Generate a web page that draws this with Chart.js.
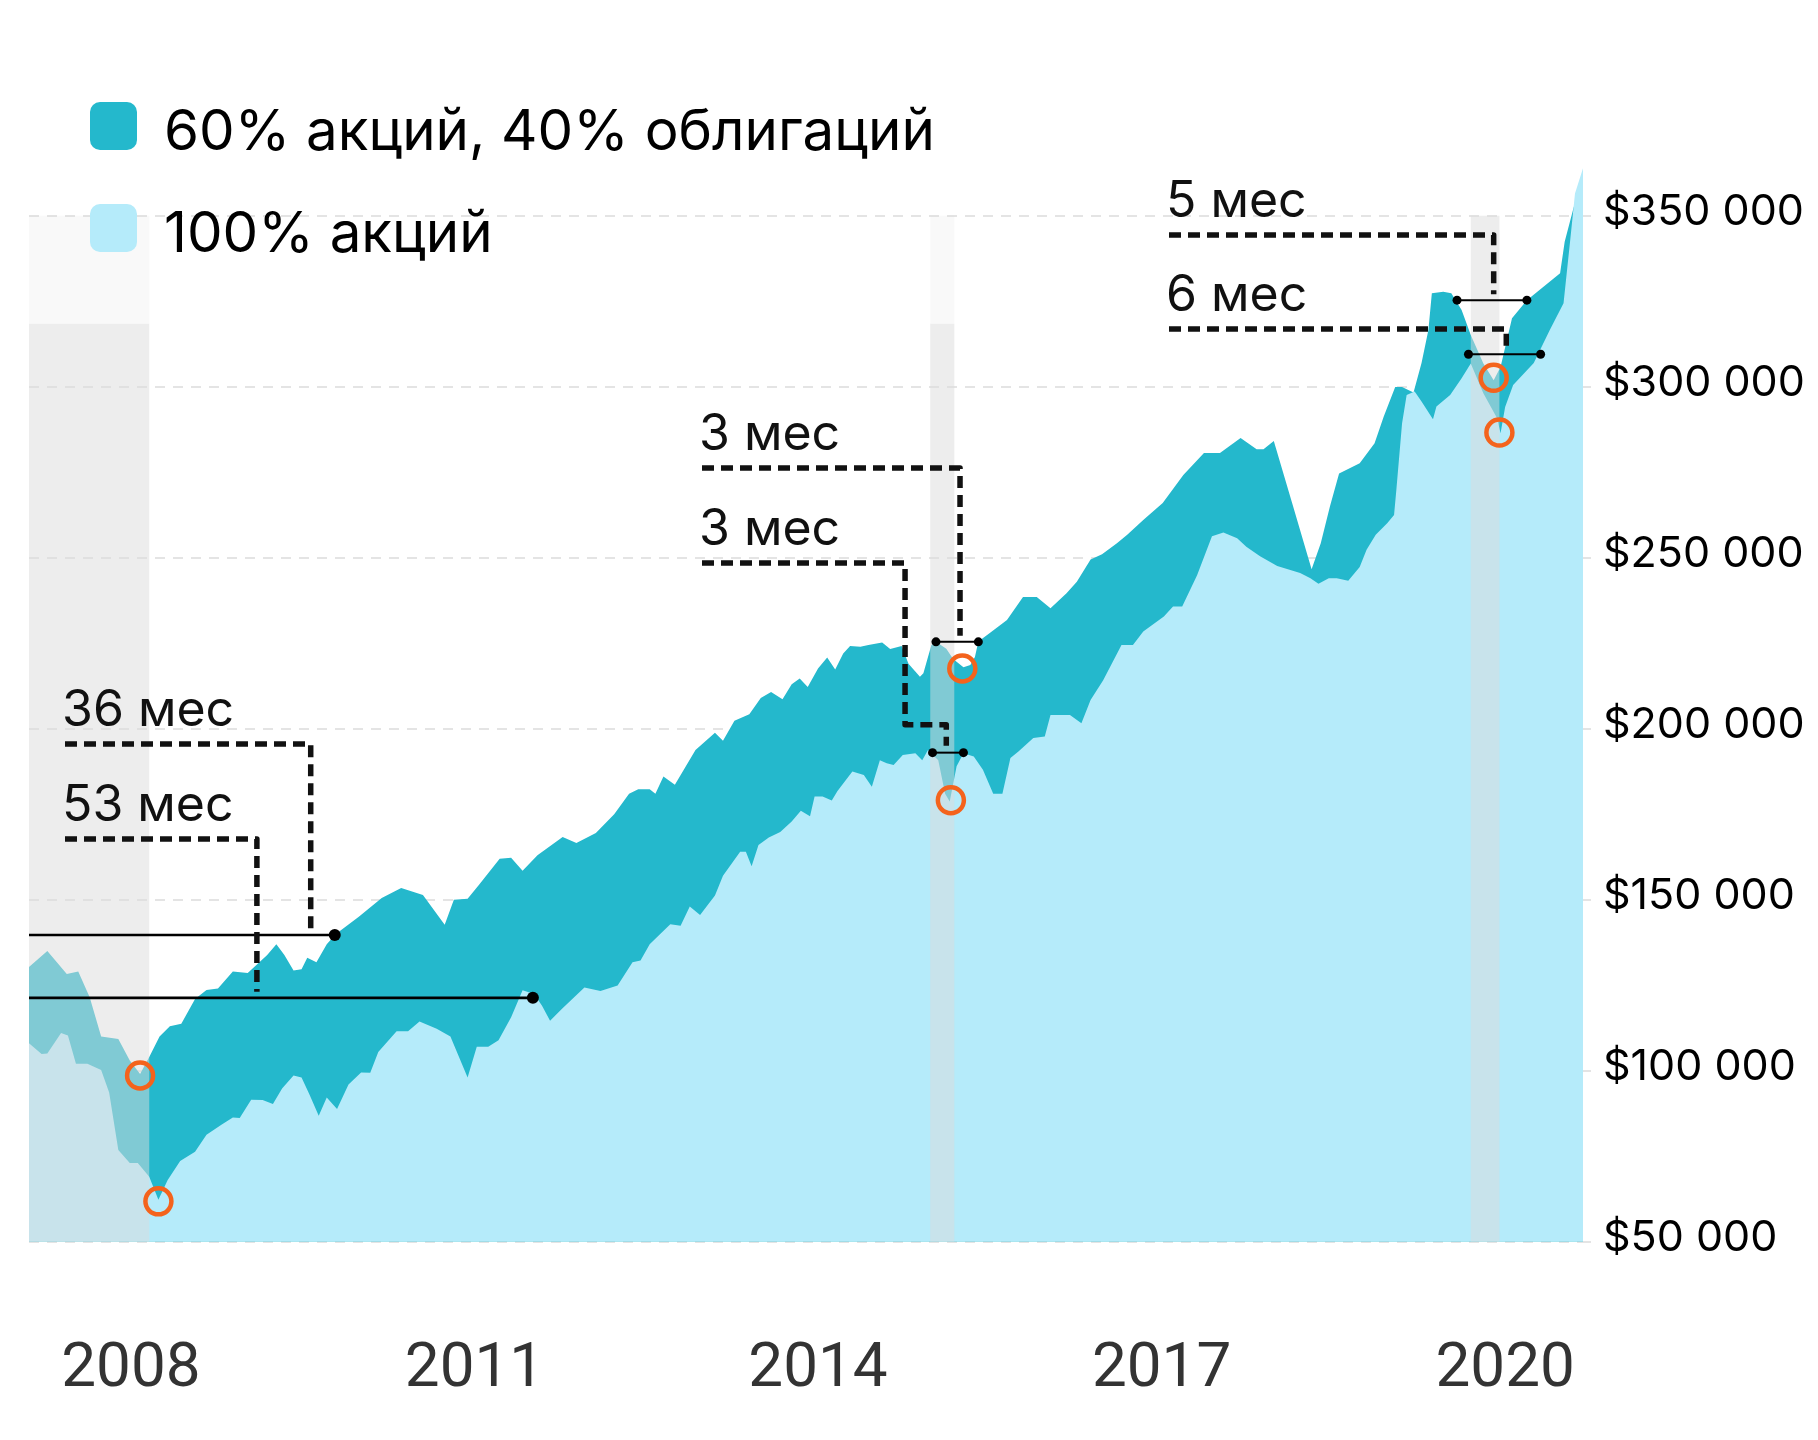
<!DOCTYPE html>
<html><head><meta charset="utf-8">
<script src="https://cdn.jsdelivr.net/npm/chart.js@4.4.1/dist/chart.umd.min.js"></script>
<style>html,body{margin:0;padding:0;background:#fff;}#wrap{width:1818px;height:1440px;}</style>
</head><body><div id="wrap"><canvas id="c" width="1818" height="1440"></canvas></div>
<script>
// ---------- DATA ----------
const seriesNames = ['60% акций, 40% облигаций', '100% акций'];
const yearTicks = [2008, 2011, 2014, 2017, 2020];
const yTicks = [50000, 100000, 150000, 200000, 250000, 300000, 350000];

const dates6040 = [2007.11,2007.27,2007.44,2007.54,2007.64,2007.74,2007.89,2007.99,2008.08,2008.16,
 2008.25,2008.34,2008.44,2008.56,2008.66,2008.76,2008.89,2009.02,2009.19,2009.27,
 2009.34,2009.42,2009.49,2009.54,2009.62,2009.71,2009.79,2009.99,2010.19,2010.36,
 2010.55,2010.74,2010.82,2010.94,2011.04,2011.22,2011.32,2011.42,2011.55,2011.77,
 2011.89,2012.06,2012.22,2012.35,2012.43,2012.53,2012.58,2012.65,2012.75,2012.93,
 2013.10,2013.17,2013.27,2013.40,2013.50,2013.59,2013.69,2013.77,2013.84,2013.91,
 2014.00,2014.08,2014.15,2014.22,2014.28,2014.37,2014.44,2014.56,2014.63,2014.73,
 2014.79,2014.89,2014.92,2014.99,2015.04,2015.12,2015.18,2015.27,2015.33,2015.37,
 2015.40,2015.50,2015.65,2015.79,2015.91,2016.03,2016.17,2016.26,2016.38,2016.48,
 2016.61,2016.70,2016.84,2017.01,2017.19,2017.37,2017.51,2017.69,2017.83,2017.89,
 2017.98,2018.14,2018.31,2018.39,2018.47,2018.55,2018.73,2018.86,2018.94,2019.04,
 2019.10,2019.20,2019.27,2019.33,2019.36,2019.46,2019.53,2019.62,2019.70,2019.81,
 2019.90,2019.96,2020.06,2020.19,2020.48,2020.52,2020.60,2020.68];
const values6040 = [130300,135000,128300,129000,121500,110000,109300,103000,99000,104000,
 110000,113000,113700,121000,123600,124000,129000,128600,133800,137000,
 133800,129300,129700,133000,131700,137000,140000,145000,150500,153400,
 151400,142700,150000,150300,154400,162000,162300,158500,163000,168300,
 166600,169500,175000,181000,182300,182300,181000,186000,183600,193800,
 198800,196500,202300,204200,209000,210700,208600,213000,214700,212200,
 217600,220800,217300,222000,224200,224000,224500,225200,223300,224200,
 219000,215200,216200,224500,225200,223400,220400,218000,218600,221000,
 225500,228000,231800,238500,238500,235200,239600,243000,249500,251000,
 254200,256700,261000,266000,274200,280600,280600,285000,281700,281700,
 284100,266000,246600,254200,265000,274600,277600,283500,291300,299900,
 299900,298300,306900,316600,327300,327800,327300,322400,315100,306800,
 301900,305800,320000,325300,333200,342400,352600,356000];

const dates100 = [2007.11,2007.22,2007.27,2007.39,2007.45,2007.52,2007.62,2007.74,2007.81,2007.89,
 2007.99,2008.06,2008.16,2008.24,2008.32,2008.43,2008.56,2008.66,2008.79,2008.89,
 2008.95,2009.05,2009.15,2009.24,2009.32,2009.42,2009.49,2009.56,2009.64,2009.71,
 2009.80,2009.90,2010.01,2010.09,2010.16,2010.32,2010.42,2010.52,2010.67,2010.79,
 2010.94,2011.02,2011.12,2011.21,2011.32,2011.42,2011.52,2011.59,2011.66,2011.76,
 2011.96,2012.10,2012.25,2012.38,2012.45,2012.53,2012.71,2012.80,2012.88,2012.97,
 2013.10,2013.17,2013.32,2013.37,2013.42,2013.48,2013.57,2013.67,2013.77,2013.85,
 2013.93,2013.97,2014.04,2014.12,2014.17,2014.30,2014.40,2014.47,2014.54,2014.60,
 2014.66,2014.74,2014.85,2014.91,2014.96,2015.05,2015.11,2015.15,2015.21,2015.27,
 2015.36,2015.44,2015.53,2015.61,2015.68,2015.75,2015.88,2015.98,2016.03,2016.20,
 2016.30,2016.38,2016.49,2016.65,2016.75,2016.84,2017.02,2017.10,2017.18,2017.31,
 2017.44,2017.54,2017.66,2017.74,2017.86,2018.01,2018.21,2018.30,2018.37,2018.46,
 2018.53,2018.63,2018.73,2018.79,2018.87,2018.97,2019.03,2019.05,2019.10,2019.14,
 2019.21,2019.27,2019.37,2019.40,2019.52,2019.62,2019.70,2019.81,2019.93,2019.96,
 2020.00,2020.07,2020.25,2020.39,2020.51,2020.57,2020.61,2020.68];
const values100 = [108000,104900,105000,111000,110300,102000,102000,100200,93600,76800,
 73000,73000,69000,62300,68000,73600,76300,81300,84200,86300,
 86200,91500,91400,90300,94800,98600,98000,93000,86800,92200,
 88800,96000,99500,99400,105500,111500,111500,114400,112300,110000,
 98000,107000,107000,108900,115600,123500,122400,119000,114600,118000,
 124300,123300,124900,131700,132200,137000,142800,142400,148000,145500,
 151200,157000,164000,164000,159800,166000,168200,169800,172900,176000,
 174400,180200,180200,179000,181800,187500,186500,183000,190800,189900,
 189400,192300,192800,190800,193800,190800,181000,178700,189000,192800,
 191900,188000,181000,181000,191400,193300,197300,197700,204000,204000,
 201600,208400,214200,224500,224500,228400,232800,235700,235700,244900,
 256300,257400,255700,253200,250400,247600,245500,244000,242400,244000,
 244000,243300,247300,252300,256700,260100,262500,269800,289300,297600,
 298600,295700,290500,294200,297600,302500,306800,298100,290800,286400,
 294100,300500,306900,316600,324400,343400,356500,363900];

// drawdown periods (start, end)
const bandStarts = [2007.11, 2014.98, 2019.70];
const bandEnds   = [2008.16, 2015.19, 2019.95];

// recovery annotations
const recLabels   = ['36 мес', '53 мес', '3 мес', '3 мес', '5 мес', '6 мес'];
const recLevels   = [139700, 121300, 225400, 193000, 325300, 309500];
const recFrom     = [null, null, 2015.03, 2015.00, 2019.58, 2019.68];
const recTo       = [2009.78, 2011.51, 2015.40, 2015.27, 2020.19, 2020.31];
const troughDates = [2008.08, 2008.24, 2015.26, 2015.16, 2019.90, 2019.95];
const troughVals  = [98600, 61800, 217600, 179100, 302600, 286600];

// ---------- LAYOUT / STYLE ----------
const C_DARK = '#24b8cc', C_LIGHT = '#b5ebfa', C_ORANGE = '#f4631c';
const FONT = 'Inter, "Noto Sans", sans-serif';
const noteLayout = [
  {tx: 62,   ty: 708, vDate: 2009.57, dotR: 6,   lw: 2.6},
  {tx: 62,   ty: 803, vDate: 2009.10, dotR: 6,   lw: 2.6},
  {tx: 699,  ty: 432, vDate: 2015.24, dotR: 4.5, lw: 2},
  {tx: 699,  ty: 527, vDate: 2014.76, jogDate: 2015.12, jogAbove: 28, dotR: 4.5, lw: 2},
  {tx: 1166, ty: 199, vDate: 2019.90, dotR: 4.5, lw: 2},
  {tx: 1166, ty: 293, vDate: 2020.01, dotR: 4.5, lw: 2},
];

function fmtMoney(v){ return '$' + String(v).replace(/\B(?=(\d{3})+(?!\d))/g, ' '); }

const overlay = {
  id: 'overlay',
  afterDatasetsDraw(chart) {
    const {ctx, chartArea: a, scales: {x, y}} = chart;
    ctx.save();
    // drawdown bands
    const top = y.getPixelForValue(350000);
    for (let i = 0; i < bandStarts.length; i++) {
      const x0 = x.getPixelForValue(bandStarts[i]), x1 = x.getPixelForValue(bandEnds[i]);
      let t = top;
      if (i < 2) {
        ctx.fillStyle = 'rgba(219,219,219,0.16)';
        ctx.fillRect(x0, top, x1 - x0, 108);
        t = top + 108;
      }
      ctx.fillStyle = 'rgba(219,219,219,0.5)';
      ctx.fillRect(x0, t, x1 - x0, a.bottom - t);
    }
    // annotations
    for (let i = 0; i < recLabels.length; i++) {
      const L = noteLayout[i];
      const ly = y.getPixelForValue(recLevels[i]);
      ctx.fillStyle = '#111';
      ctx.font = '400 50px ' + FONT;
      ctx.textAlign = 'left'; ctx.textBaseline = 'alphabetic';
      ctx.fillText(recLabels[i], L.tx, L.ty + 18.2);
      // dashed connector
      const hy = L.ty + 36, sx = L.tx + 3;
      const vx = x.getPixelForValue(L.vDate);
      ctx.beginPath();
      ctx.setLineDash([12, 7]);
      ctx.lineWidth = 5.5; ctx.lineJoin = 'round'; ctx.strokeStyle = '#111';
      ctx.moveTo(sx, hy); ctx.lineTo(vx, hy);
      if (L.jogDate) {
        const jy = ly - L.jogAbove, jx = x.getPixelForValue(L.jogDate);
        ctx.lineTo(vx, jy); ctx.lineTo(jx, jy); ctx.lineTo(jx, ly - 7);
      } else {
        ctx.lineTo(vx, ly - 6);
      }
      ctx.stroke();
      ctx.setLineDash([]);
      // level line + dots
      const fx = recFrom[i] == null ? a.left : x.getPixelForValue(recFrom[i]);
      const tx = x.getPixelForValue(recTo[i]);
      ctx.beginPath(); ctx.lineWidth = L.lw; ctx.strokeStyle = '#000';
      ctx.moveTo(fx, ly); ctx.lineTo(tx, ly); ctx.stroke();
      ctx.fillStyle = '#000';
      const dots = recFrom[i] == null ? [tx] : [fx, tx];
      dots.forEach(dx => { ctx.beginPath(); ctx.arc(dx, ly, L.dotR, 0, Math.PI * 2); ctx.fill(); });
      // trough circle
      ctx.beginPath(); ctx.lineWidth = 4.5; ctx.strokeStyle = C_ORANGE;
      ctx.arc(x.getPixelForValue(troughDates[i]), y.getPixelForValue(troughVals[i]), 13, 0, Math.PI * 2);
      ctx.stroke();
    }
    ctx.restore();
  },
  afterDraw(chart) {
    const {ctx} = chart;
    ctx.save();
    const cols = [C_DARK, C_LIGHT];
    const sqY = [102, 204], baseY = [149.5, 251.5];
    for (let i = 0; i < 2; i++) {
      ctx.fillStyle = cols[i];
      ctx.beginPath(); ctx.roundRect(90, sqY[i], 47, 48, 10); ctx.fill();
      ctx.fillStyle = '#000';
      ctx.font = '400 56.5px ' + FONT;
      ctx.textAlign = 'left'; ctx.textBaseline = 'alphabetic';
      ctx.fillText(seriesNames[i], 164, baseY[i]);
    }
    ctx.restore();
  }
};

function build() {
  new Chart(document.getElementById('c'), {
    type: 'line',
    data: {
      datasets: [
        { label: seriesNames[1], data: dates100.map((d, i) => ({x: d, y: values100[i]})),
          backgroundColor: C_LIGHT, borderColor: 'rgba(0,0,0,0)', borderWidth: 0, fill: 'start', order: 0 },
        { label: seriesNames[0], data: dates6040.map((d, i) => ({x: d, y: values6040[i]})),
          backgroundColor: C_DARK, borderColor: 'rgba(0,0,0,0)', borderWidth: 0, fill: 'start', order: 1 }
      ]
    },
    options: {
      responsive: false, animation: false, devicePixelRatio: 1,
      layout: { padding: { left: 29, top: 161, right: 0, bottom: 0 } },
      elements: { point: { radius: 0, hoverRadius: 0 }, line: { tension: 0 } },
      plugins: { legend: { display: false }, tooltip: { enabled: false } },
      events: [],
      scales: {
        x: {
          type: 'linear', min: 2007.11, max: 2020.68,
          grid: { display: false, drawTicks: false }, border: { display: false },
          afterBuildTicks: s => { s.ticks = yearTicks.map(v => ({value: v})); },
          afterFit: s => { s.height = 198.3; s.paddingLeft = 0; s.paddingRight = 0; },
          ticks: { autoSkip: false, maxRotation: 0, padding: 92, color: '#333',
                   font: { family: 'Roboto, "Liberation Sans", sans-serif', size: 62 },
                   callback: v => String(v) }
        },
        y: {
          position: 'right', min: 50000, max: 366000,
          grid: { color: '#e4e4e4', lineWidth: 2, drawTicks: true, tickLength: 8, tickColor: '#e4e4e4', tickBorderDash: [] },
          border: { display: false, dash: [10, 8] },
          afterBuildTicks: s => { s.ticks = yTicks.map(v => ({value: v})); },
          afterFit: s => { s.width = 235; },
          ticks: { padding: 12, color: '#000', labelOffset: -4,
                   font: { family: FONT, size: 43 }, callback: v => fmtMoney(v) }
        }
      }
    },
    plugins: [overlay]
  });
}
Promise.all([
  document.fonts.load('400 58px Inter'), document.fonts.load('400 61px Roboto')
]).then(build, build);
</script></body></html>
